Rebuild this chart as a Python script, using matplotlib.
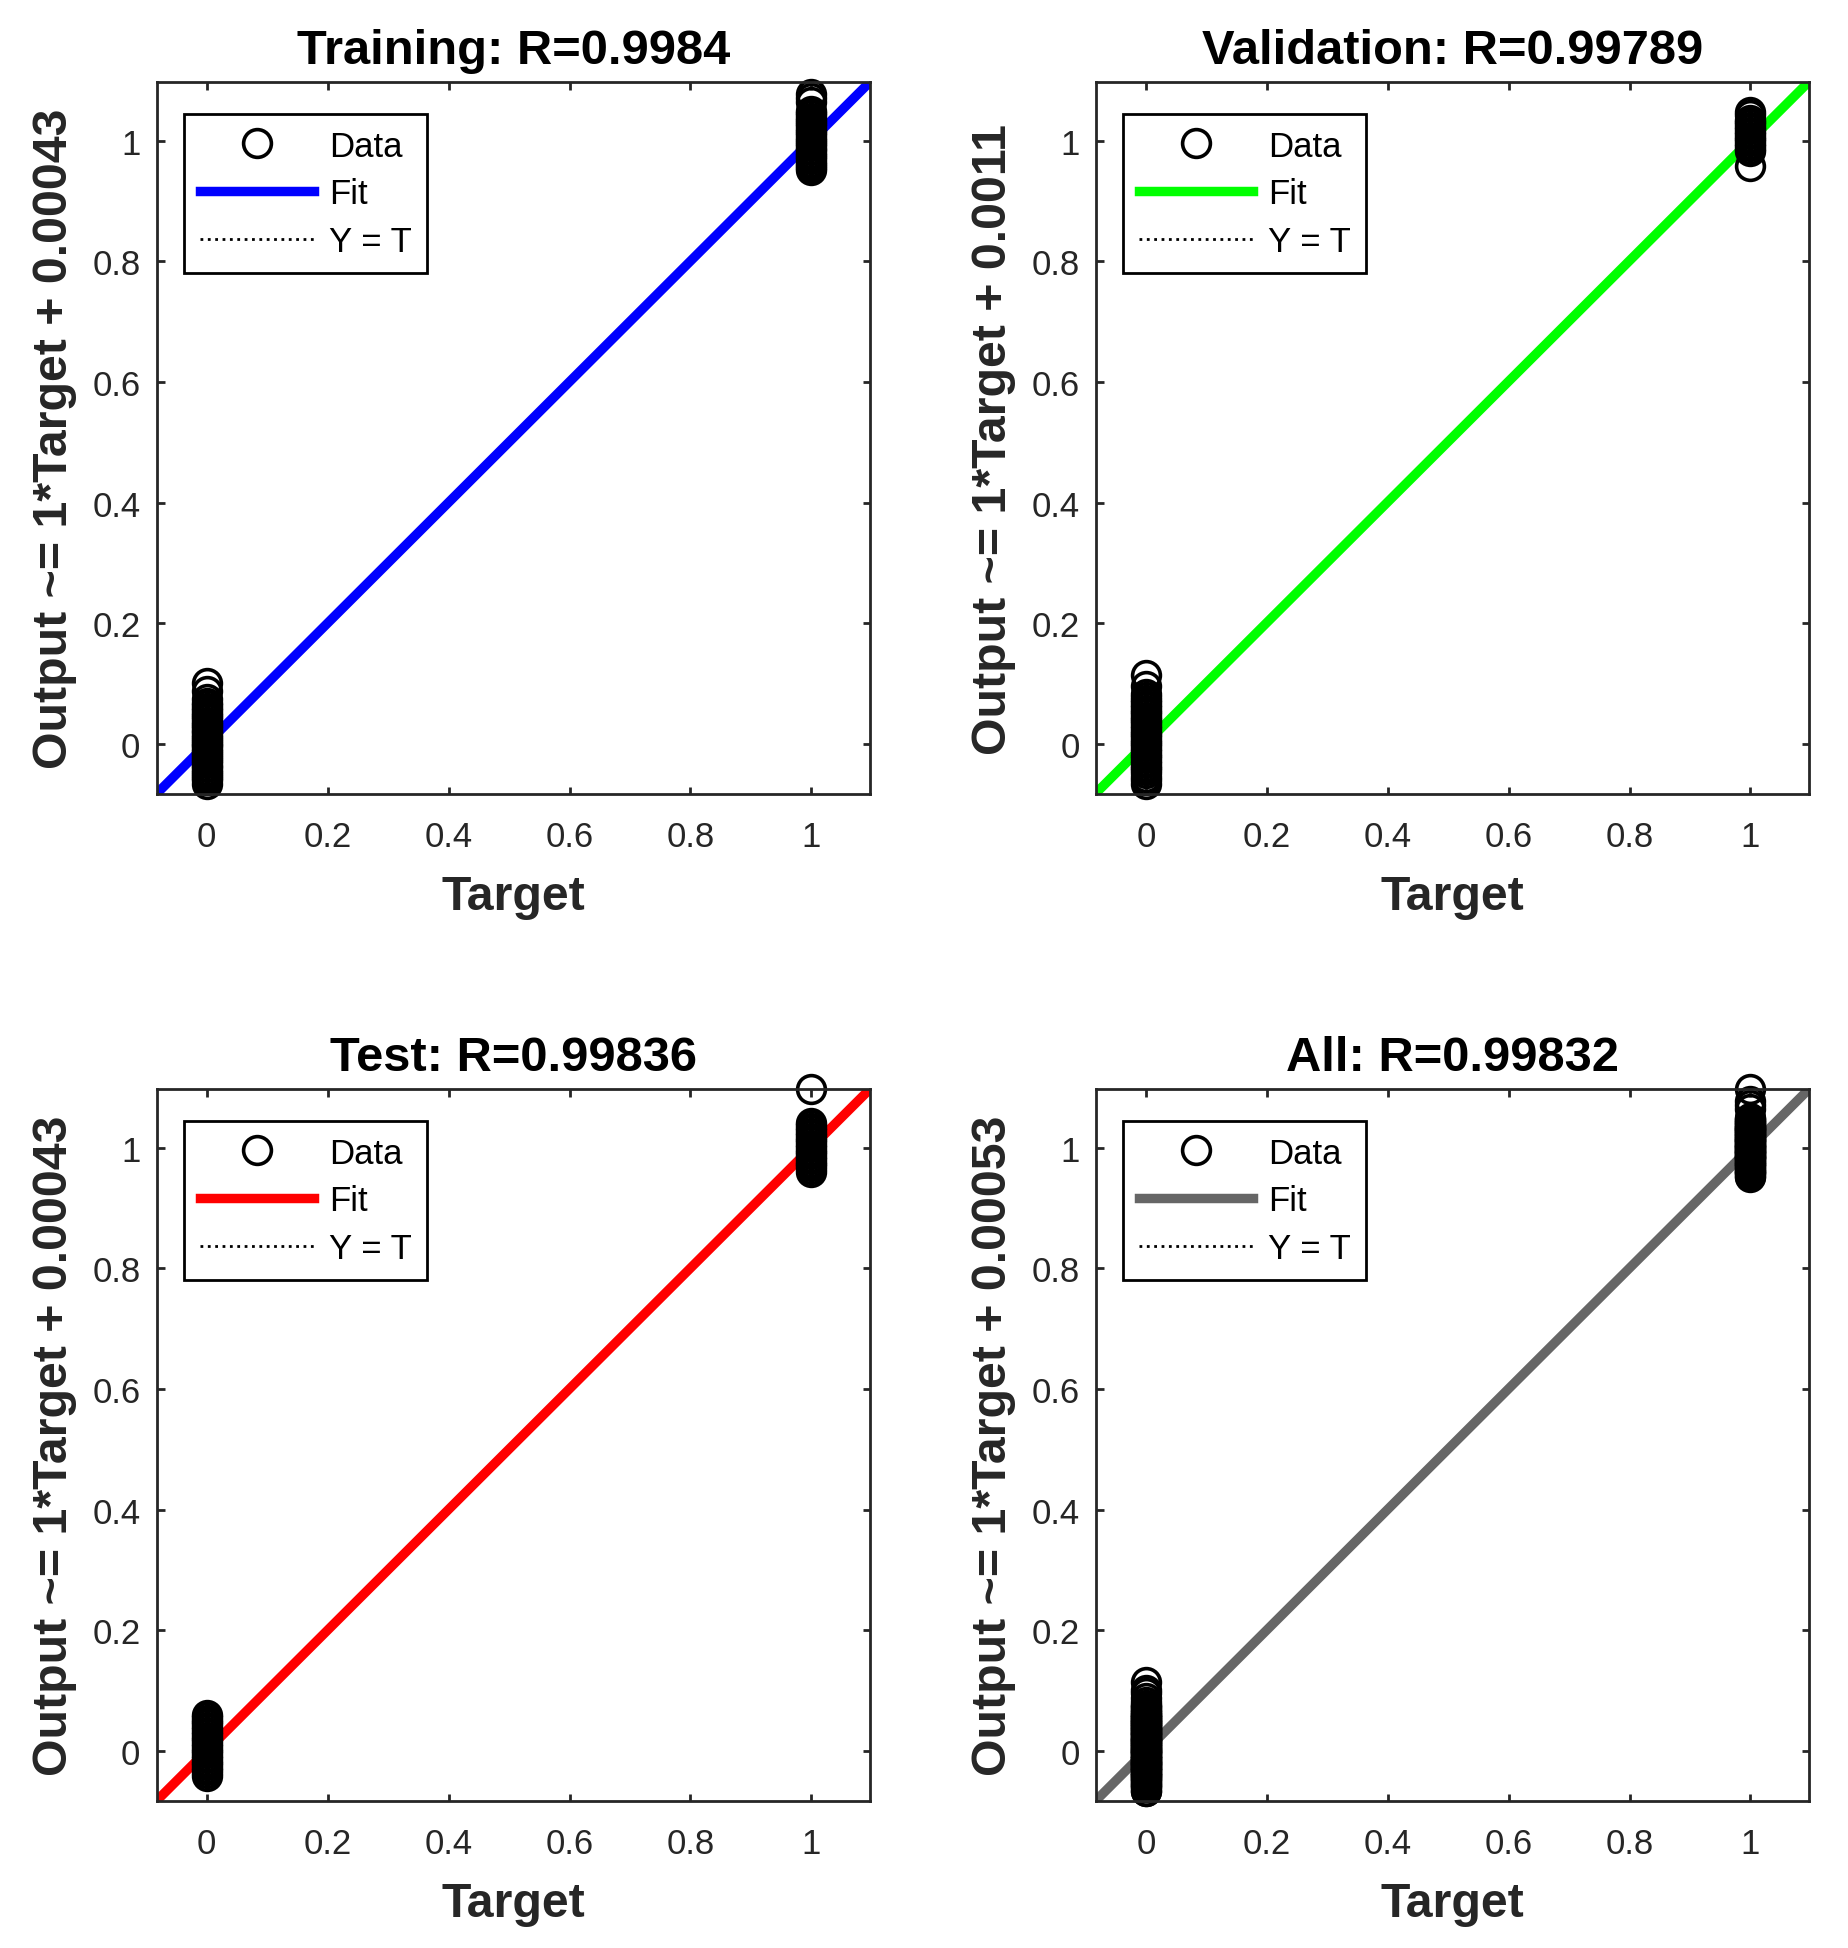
import numpy as np
import matplotlib
matplotlib.use('Agg')
import matplotlib.pyplot as plt
from matplotlib.lines import Line2D

plt.rcParams['font.family'] = ['Liberation Sans', 'DejaVu Sans']

# panel texts and fit results
titles = ['Training', 'Validation', 'Test', 'All']
r_values = ['0.9984', '0.99789', '0.99836', '0.99832']
slopes = [1, 1, 1, 1]
intercepts = ['0.00043', '0.0011', '0.00043', '0.00053']
fit_colors = ['#0000ff', '#00ff00', '#ff0000', '#666666']

# network outputs, grouped by target class
train_out_0 = [0.101, 0.088, 0.075, 0.068, 0.064, 0.060, 0.056, 0.052, 0.048,
               0.045, 0.041, 0.037, 0.033, 0.030, 0.026, 0.022, 0.019, 0.015,
               0.012, 0.008, 0.005, 0.002, -0.001, -0.004, -0.008, -0.011,
               -0.015, -0.018, -0.022, -0.025, -0.029, -0.032, -0.036, -0.039,
               -0.043, -0.046, -0.050, -0.053, -0.057, -0.060, -0.066]
train_out_1 = [1.077, 1.071, 1.064, 1.050, 1.046, 1.042, 1.038, 1.035, 1.031,
               1.027, 1.024, 1.020, 1.016, 1.013, 1.009, 1.005, 1.002, 0.998,
               0.995, 0.991, 0.987, 0.984, 0.980, 0.976, 0.973, 0.969, 0.965,
               0.962, 0.958, 0.954, 0.951]
val_out_0 = [0.114, 0.096, 0.082, 0.077, 0.073, 0.069, 0.065, 0.061, 0.057,
             0.053, 0.049, 0.045, 0.041, 0.038, 0.034, 0.030, 0.026, 0.022,
             0.018, 0.015, 0.011, 0.007, 0.003, 0.000, -0.004, -0.008, -0.012,
             -0.016, -0.020, -0.024, -0.028, -0.032, -0.036, -0.040, -0.044,
             -0.048, -0.054, -0.060, -0.067]
val_out_1 = [1.048, 1.043, 1.035, 1.031, 1.027, 1.023, 1.019, 1.015, 1.011,
             1.007, 1.003, 0.999, 0.995, 0.991, 0.987, 0.983, 0.958]
test_out_0 = [0.060, 0.056, 0.052, 0.048, 0.044, 0.040, 0.036, 0.032, 0.028,
              0.024, 0.020, 0.016, 0.012, 0.008, 0.004, 0.000, -0.004, -0.008,
              -0.012, -0.016, -0.020, -0.024, -0.028, -0.032, -0.036, -0.041]
test_out_1 = [1.097, 1.041, 1.037, 1.033, 1.029, 1.025, 1.021, 1.017, 1.013,
              1.009, 1.005, 1.001, 0.997, 0.993, 0.989, 0.985, 0.981, 0.977,
              0.973, 0.969, 0.965, 0.960]

groups = [
    (train_out_0, train_out_1),
    (val_out_0, val_out_1),
    (test_out_0, test_out_1),
    (train_out_0 + val_out_0 + test_out_0, train_out_1 + val_out_1 + test_out_1),
]

axis_lim = np.array([-0.083, 1.097])
tick_vals = [0, 0.2, 0.4, 0.6, 0.8, 1]
tick_labels = ['0', '0.2', '0.4', '0.6', '0.8', '1']

fig = plt.figure(figsize=(1849 / 200, 1949 / 200), dpi=200)

col_left = [0.0847, 0.5926]
row_bottom = [0.5921, 0.0754]
ax_w, ax_h = 0.3858, 0.3652
axis_color = '#262626'
marker_size, marker_edge = 10, 1.3
fit_lw = 3.4

for k in range(4):
    row, col = divmod(k, 2)
    ax = fig.add_axes([col_left[col], row_bottom[row], ax_w, ax_h])

    out0, out1 = groups[k]
    t = np.array([0] * len(out0) + [1] * len(out1))
    y = np.array(out0 + out1)

    # Y = T
    ax.plot(axis_lim, axis_lim, ':', color='k', lw=1.0)
    # fit
    ax.plot(axis_lim, slopes[k] * axis_lim + float(intercepts[k]),
            color=fit_colors[k], lw=fit_lw)
    # data
    ax.plot(t, y, 'o', mfc='none', mec='k', ms=marker_size,
            mew=marker_edge, clip_on=False)

    ax.set_xlim(axis_lim)
    ax.set_ylim(axis_lim)
    ax.set_xticks(tick_vals)
    ax.set_xticklabels(tick_labels)
    ax.set_yticks(tick_vals)
    ax.set_yticklabels(tick_labels)

    ax.tick_params(direction='in', length=2.7, width=1.0, colors=axis_color,
                   labelsize=12.5, top=True, right=True)
    ax.tick_params(axis='x', pad=9.5)
    ax.tick_params(axis='y', pad=5.8)
    for sp in ax.spines.values():
        sp.set_color(axis_color)
        sp.set_linewidth(1.0)

    ax.set_title(f'{titles[k]}: R={r_values[k]}', fontsize=17.6,
                 fontweight='bold', pad=7)
    ax.set_xlabel('Target', fontsize=17.4, fontweight='bold',
                  color=axis_color, labelpad=7.5)
    ax.set_ylabel(f'Output ~= {slopes[k]}*Target + {intercepts[k]}',
                  fontsize=17.4, fontweight='bold', color=axis_color,
                  labelpad=5.6)

    handles = [
        Line2D([], [], ls='none', marker='o', mfc='none', mec='k',
               ms=marker_size, mew=marker_edge),
        Line2D([], [], color=fit_colors[k], lw=fit_lw),
        Line2D([], [], ls=':', color='k', lw=1.0),
    ]
    leg = ax.legend(handles, ['Data', 'Fit', 'Y = T'], loc='upper left',
                    bbox_to_anchor=(0.0383, 0.9555), borderaxespad=0,
                    fontsize=12.5, handlelength=3.3, handletextpad=0.42,
                    labelspacing=0.42, borderpad=0.45, fancybox=False,
                    framealpha=1, edgecolor='k')
    leg.get_frame().set_linewidth(1.0)

fig.savefig('out.png', dpi=200)
